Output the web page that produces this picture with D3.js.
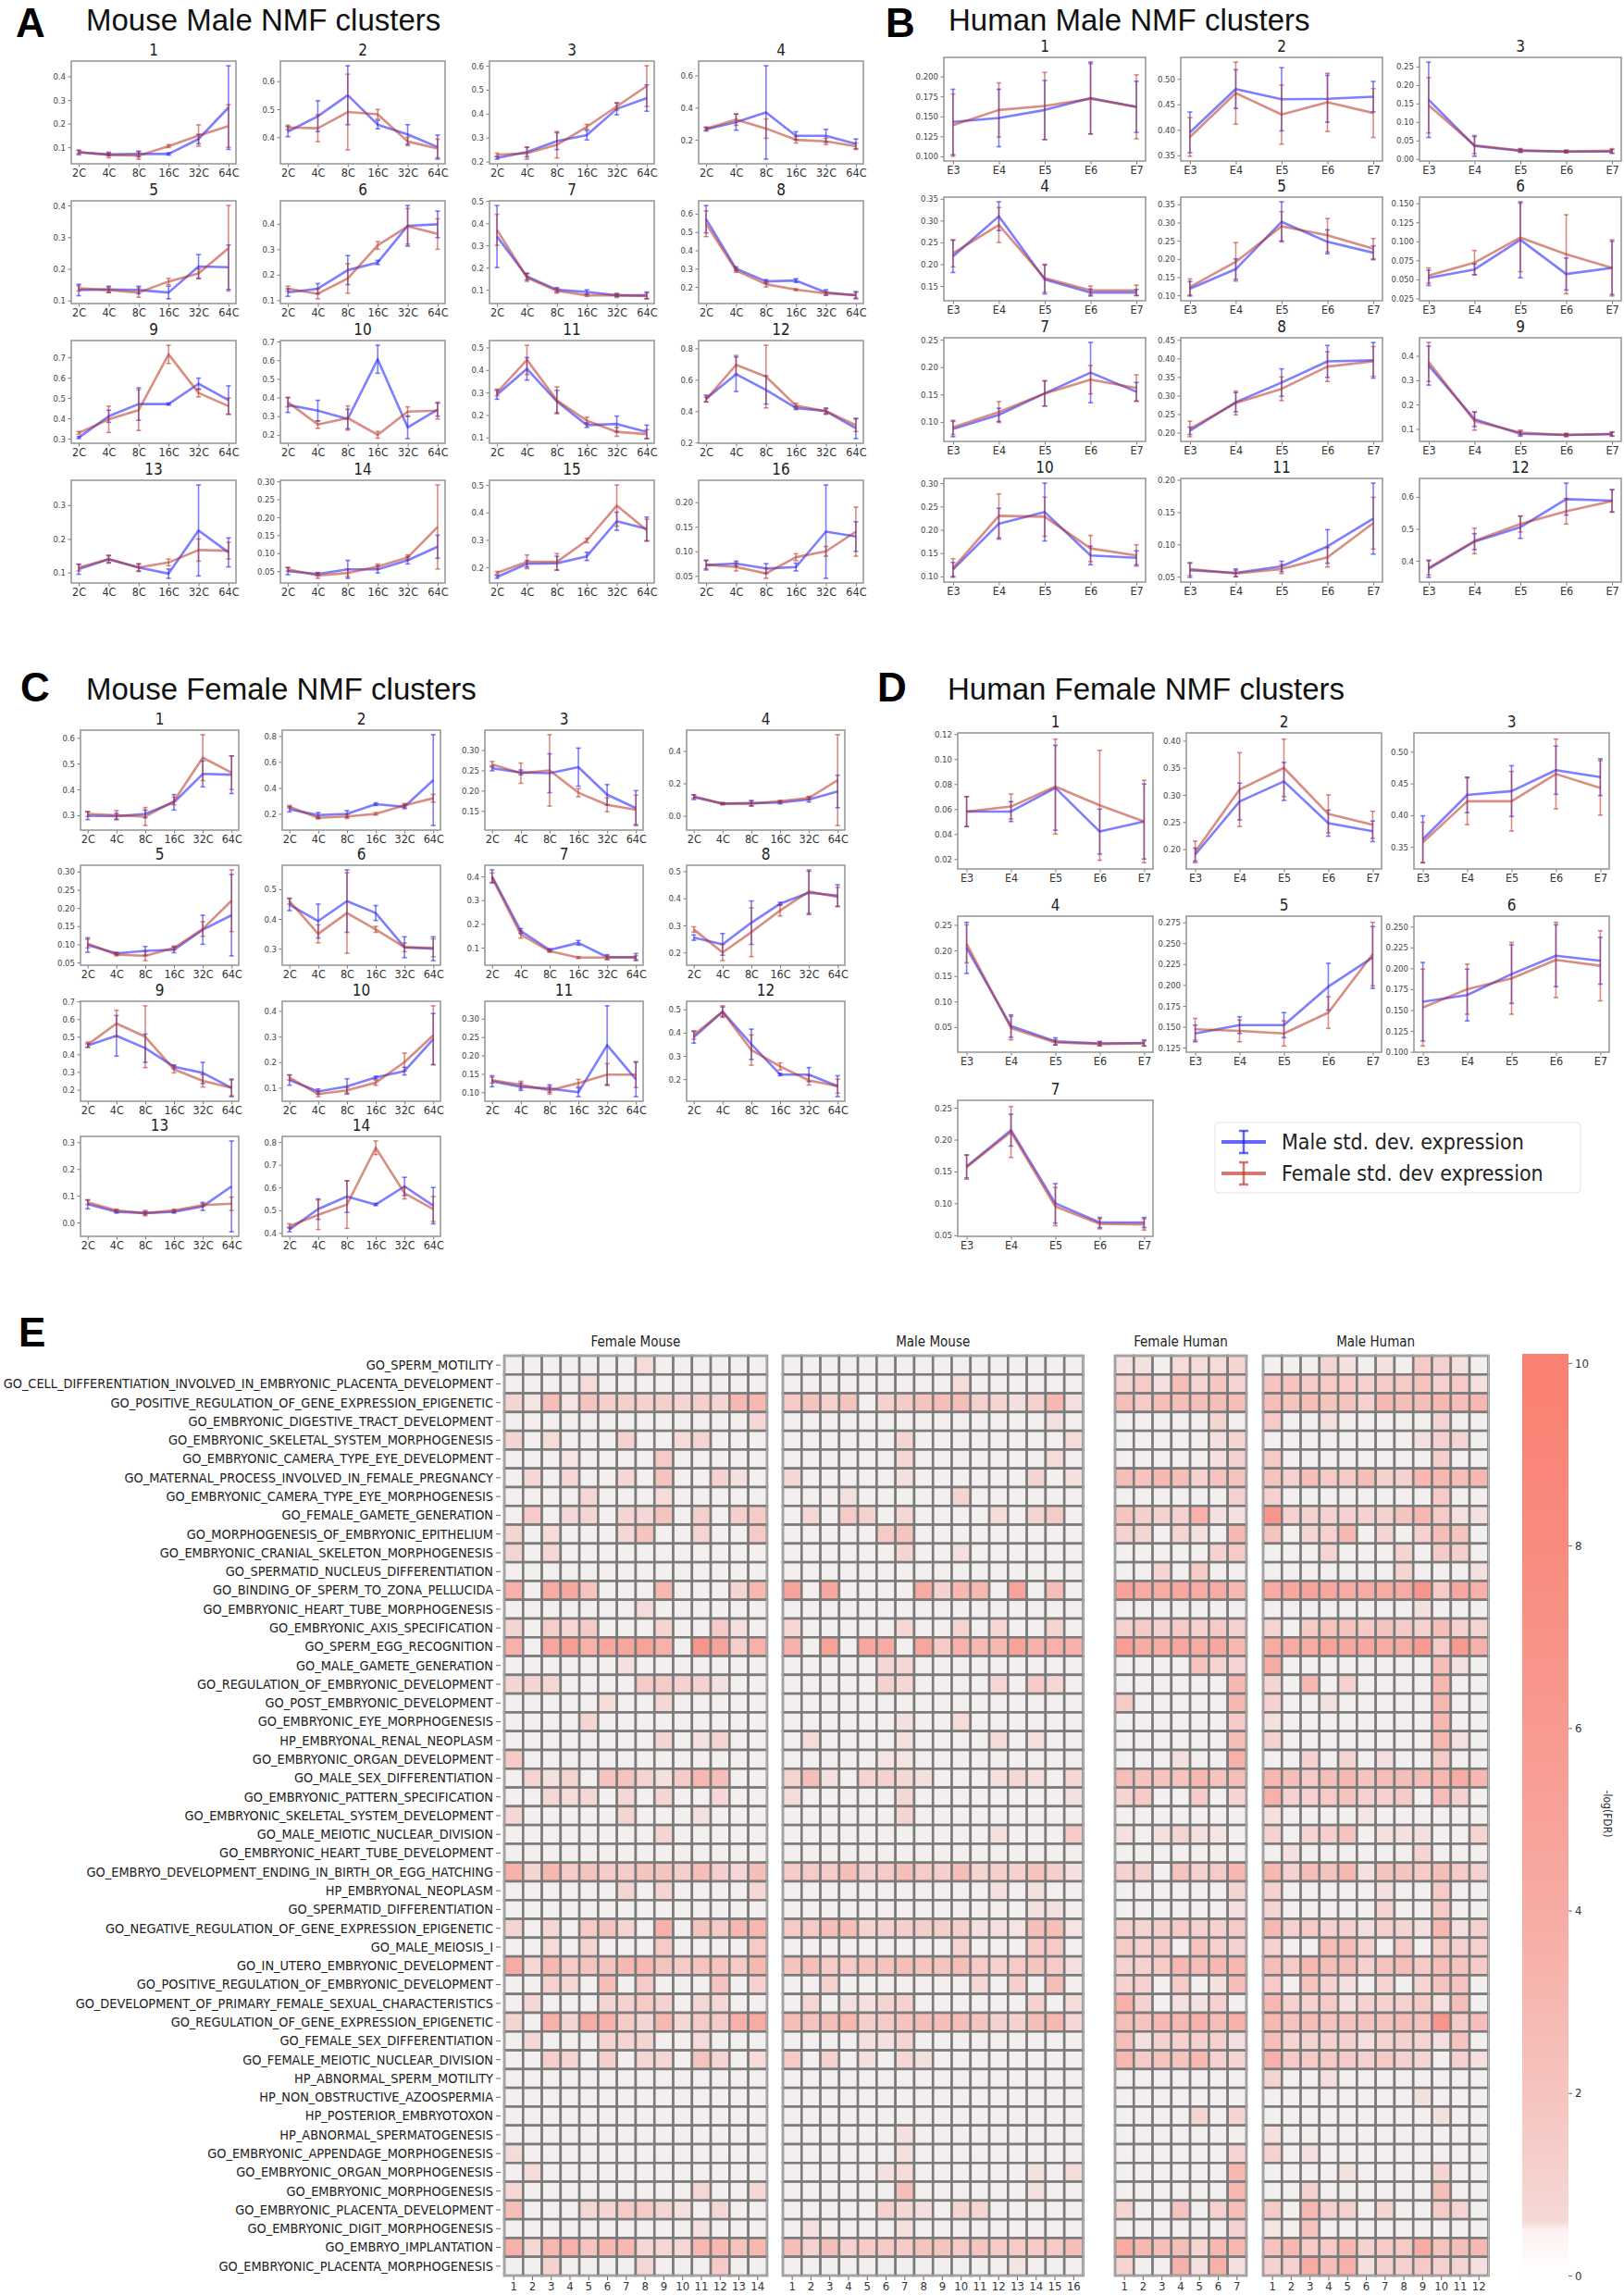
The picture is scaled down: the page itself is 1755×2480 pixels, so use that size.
<!DOCTYPE html>
<html><head><meta charset="utf-8">
<script src="https://cdn.jsdelivr.net/npm/d3@7"></script>
<style>body{margin:0;background:#fff;}svg{display:block;}</style>
</head><body>
<svg id="fig" width="1755" height="2480"></svg>
<script>
// ---------------- DATA ----------------
const mouseStages = ["2C","4C","8C","16C","32C","64C"];
const humanStages = ["E3","E4","E5","E6","E7"];

// Panel A: Mouse Male NMF clusters
const aMaleMean = [
 [0.078,0.07,0.072,0.072,0.135,0.268],[0.42,0.475,0.55,0.445,0.41,0.365],[0.215,0.24,0.285,0.31,0.42,0.465],[0.265,0.31,0.37,0.225,0.225,0.175],
 [0.133,0.135,0.133,0.125,0.207,0.205],[0.13,0.145,0.218,0.248,0.392,0.398],[0.34,0.16,0.1,0.09,0.075,0.075],[0.57,0.3,0.23,0.235,0.17,0.155],
 [0.305,0.41,0.47,0.47,0.57,0.49],[0.36,0.33,0.285,0.605,0.24,0.335],[0.29,0.405,0.26,0.155,0.16,0.125],[0.48,0.635,0.535,0.42,0.4,0.29],
 [0.11,0.14,0.115,0.097,0.225,0.16],[0.05,0.042,0.055,0.055,0.08,0.118],[0.165,0.213,0.215,0.24,0.368,0.34],[0.072,0.075,0.065,0.068,0.14,0.13]];
const aMaleSD = [
 [0.01,0.005,0.012,0.005,0.02,0.177],[0.018,0.055,0.105,0.015,0.035,0.043],[0.005,0.02,0.035,0.02,0.025,0.055],[0.01,0.05,0.29,0.025,0.04,0.03],
 [0.018,0.01,0.012,0.02,0.038,0.07],[0.015,0.02,0.057,0.008,0.08,0.052],[0.14,0.015,0.01,0.01,0.005,0.015],[0.075,0.01,0.01,0.01,0.015,0.02],
 [0.005,0.03,0.08,0.005,0.028,0.07],[0.04,0.055,0.052,0.075,0.06,0.035],[0.02,0.05,0.05,0.01,0.035,0.03],[0.022,0.11,0.09,0.01,0.02,0.065],
 [0.015,0.01,0.01,0.014,0.135,0.043],[0.01,0.004,0.025,0.01,0.01,0.032],[0.005,0.012,0.025,0.015,0.033,0.043],[0.01,0.005,0.01,0.008,0.095,0.03]];
const aFemaleMean = [
 [0.08,0.068,0.065,0.105,0.15,0.19],[0.435,0.432,0.49,0.482,0.385,0.36],[0.228,0.235,0.27,0.345,0.43,0.515],[0.27,0.325,0.27,0.2,0.19,0.16],
 [0.138,0.133,0.125,0.16,0.185,0.265],[0.145,0.125,0.185,0.315,0.39,0.36],[0.37,0.155,0.095,0.075,0.075,0.072],[0.545,0.29,0.215,0.185,0.165,0.155],
 [0.328,0.395,0.44,0.715,0.525,0.46],[0.375,0.255,0.29,0.2,0.325,0.33],[0.3,0.445,0.265,0.175,0.125,0.115],[0.475,0.695,0.62,0.435,0.4,0.31],
 [0.115,0.14,0.115,0.13,0.167,0.165],[0.055,0.038,0.045,0.063,0.088,0.173],[0.18,0.22,0.22,0.298,0.425,0.335],[0.073,0.068,0.055,0.088,0.1,0.14]];
const aFemaleSD = [
 [0.006,0.012,0.015,0.006,0.045,0.09],[0.008,0.048,0.135,0.017,0.015,0.033],[0.007,0.025,0.055,0.01,0.015,0.085],[0.01,0.035,0.06,0.02,0.02,0.02],
 [0.008,0.008,0.015,0.01,0.015,0.135],[0.01,0.02,0.058,0.015,0.07,0.06],[0.07,0.017,0.01,0.005,0.01,0.013],[0.07,0.01,0.015,0.005,0.01,0.015],
 [0.007,0.065,0.1,0.045,0.02,0.04],[0.025,0.02,0.065,0.018,0.025,0.045],[0.015,0.065,0.06,0.015,0.02,0.02],[0.015,0.06,0.2,0.015,0.015,0.04],
 [0.01,0.012,0.012,0.01,0.033,0.025],[0.005,0.008,0.01,0.007,0.007,0.117],[0.005,0.025,0.03,0.008,0.075,0.04],[0.008,0.008,0.01,0.007,0.01,0.05]];

// Panel B: Human Male NMF clusters
const bMaleMean = [
 [0.143,0.148,0.158,0.173,0.162],[0.395,0.48,0.46,0.461,0.465],[0.16,0.035,0.022,0.02,0.02],[0.218,0.31,0.165,0.135,0.135],
 [0.118,0.172,0.302,0.247,0.217],[0.052,0.063,0.102,0.057,0.065],[0.087,0.113,0.152,0.19,0.155],[0.205,0.282,0.335,0.392,0.395],
 [0.36,0.14,0.08,0.075,0.078],[0.115,0.213,0.238,0.145,0.14],[0.06,0.056,0.066,0.097,0.14],[0.375,0.46,0.505,0.593,0.588]];
const bMaleSD = [
 [0.041,0.036,0.037,0.045,0.032],[0.04,0.038,0.062,0.046,0.03],[0.102,0.028,0.004,0.003,0.005],[0.037,0.033,0.033,0.008,0.007],
 [0.02,0.028,0.055,0.033,0.019],[0.01,0.007,0.05,0.021,0.035],[0.014,0.012,0.023,0.055,0.017],[0.01,0.026,0.037,0.043,0.048],
 [0.08,0.03,0.01,0.005,0.008],[0.015,0.033,0.062,0.02,0.015],[0.011,0.006,0.008,0.026,0.055],[0.027,0.025,0.035,0.05,0.035]];
const bFemaleMean = [
 [0.139,0.158,0.163,0.172,0.162],[0.386,0.472,0.43,0.454,0.433],[0.145,0.037,0.023,0.02,0.022],[0.225,0.29,0.168,0.14,0.14],
 [0.123,0.192,0.29,0.265,0.228],[0.055,0.072,0.105,0.083,0.065],[0.09,0.118,0.152,0.177,0.162],[0.21,0.28,0.318,0.378,0.392],
 [0.375,0.132,0.085,0.075,0.08],[0.118,0.23,0.228,0.16,0.145],[0.062,0.055,0.062,0.08,0.133],[0.378,0.462,0.515,0.555,0.587]];
const bFemaleSD = [
 [0.039,0.034,0.042,0.044,0.04],[0.038,0.061,0.058,0.057,0.048],[0.075,0.023,0.005,0.004,0.006],[0.031,0.04,0.032,0.01,0.012],
 [0.022,0.053,0.04,0.046,0.028],[0.01,0.016,0.045,0.052,0.037],[0.013,0.019,0.023,0.026,0.024],[0.021,0.032,0.032,0.04,0.04],
 [0.08,0.037,0.01,0.007,0.008],[0.02,0.047,0.042,0.028,0.023],[0.01,0.005,0.007,0.015,0.04],[0.022,0.04,0.025,0.04,0.035]];

// Panel C: Mouse Female NMF clusters
const cMaleMean = [
 [0.298,0.296,0.305,0.35,0.46,0.457],[0.235,0.19,0.2,0.275,0.255,0.46],[0.255,0.245,0.243,0.258,0.19,0.157],[0.115,0.075,0.078,0.082,0.1,0.15],
 [0.098,0.075,0.082,0.085,0.14,0.18],[0.448,0.393,0.46,0.42,0.305,0.3],[0.4,0.17,0.09,0.12,0.06,0.06],[0.255,0.23,0.31,0.38,0.42,0.41],
 [0.45,0.505,0.435,0.33,0.295,0.21],[0.13,0.085,0.105,0.14,0.165,0.29],[0.13,0.115,0.11,0.1,0.228,0.135],[0.38,0.49,0.35,0.22,0.22,0.17],
 [0.068,0.04,0.035,0.04,0.06,0.135],[0.415,0.505,0.56,0.525,0.605,0.52]];
const cMaleSD = [
 [0.015,0.011,0.015,0.03,0.05,0.073],[0.02,0.02,0.025,0.01,0.015,0.35],[0.006,0.006,0.048,0.047,0.025,0.043],[0.015,0.006,0.017,0.008,0.015,0.1],
 [0.02,0.003,0.012,0.008,0.04,0.112],[0.02,0.057,0.105,0.025,0.035,0.04],[0.028,0.01,0.005,0.01,0.01,0.015],[0.01,0.04,0.08,0.005,0.08,0.04],
 [0.01,0.115,0.08,0.01,0.06,0.05],[0.02,0.01,0.03,0.005,0.015,0.1],[0.015,0.01,0.01,0.012,0.107,0.047],[0.025,0.02,0.065,0.005,0.03,0.045],
 [0.017,0.005,0.005,0.005,0.015,0.17],[0.01,0.045,0.07,0.005,0.04,0.08]];
const cFemaleMean = [
 [0.305,0.3,0.295,0.355,0.523,0.465],[0.255,0.17,0.18,0.2,0.265,0.32],[0.265,0.243,0.25,0.195,0.165,0.153],[0.12,0.075,0.075,0.09,0.11,0.22],
 [0.102,0.072,0.068,0.09,0.142,0.22],[0.46,0.35,0.42,0.365,0.305,0.303],[0.395,0.155,0.085,0.058,0.058,0.058],[0.285,0.2,0.275,0.355,0.425,0.405],
 [0.455,0.575,0.5,0.315,0.25,0.21],[0.14,0.075,0.09,0.12,0.2,0.305],[0.133,0.12,0.105,0.125,0.148,0.148],[0.39,0.49,0.325,0.255,0.195,0.17],
 [0.075,0.045,0.035,0.045,0.065,0.07],[0.43,0.48,0.525,0.775,0.575,0.505]];
const cFemaleSD = [
 [0.01,0.018,0.035,0.015,0.089,0.065],[0.01,0.01,0.015,0.01,0.015,0.03],[0.007,0.025,0.088,0.01,0.017,0.036],[0.01,0.006,0.015,0.006,0.01,0.28],
 [0.012,0.004,0.013,0.005,0.02,0.085],[0.01,0.03,0.135,0.01,0.015,0.03],[0.02,0.015,0.005,0.004,0.008,0.008],[0.01,0.03,0.09,0.02,0.08,0.035],
 [0.015,0.075,0.175,0.02,0.035,0.045],[0.01,0.01,0.01,0.01,0.035,0.115],[0.008,0.01,0.01,0.01,0.03,0.035],[0.018,0.025,0.065,0.015,0.02,0.03],
 [0.008,0.005,0.01,0.005,0.005,0.025],[0.01,0.065,0.105,0.03,0.025,0.055]];

// Panel D: Human Female NMF clusters
const dMaleMean = [
 [0.058,0.058,0.077,0.042,0.05],[0.19,0.288,0.325,0.248,0.233],[0.362,0.432,0.438,0.471,0.46],[0.205,0.052,0.022,0.018,0.019],
 [0.142,0.152,0.152,0.198,0.233],[0.16,0.168,0.193,0.215,0.209],[0.158,0.215,0.1,0.07,0.07]];
const dMaleSD = [
 [0.012,0.008,0.034,0.018,0.03],[0.012,0.034,0.035,0.024,0.019],[0.037,0.028,0.04,0.038,0.029],[0.05,0.022,0.007,0.004,0.006],
 [0.01,0.01,0.015,0.028,0.037],[0.047,0.031,0.035,0.037,0.028],[0.018,0.025,0.031,0.008,0.008]];
const dFemaleMean = [
 [0.058,0.062,0.078,0.063,0.05],[0.195,0.31,0.35,0.265,0.245],[0.357,0.422,0.422,0.465,0.443],[0.213,0.048,0.02,0.017,0.018],
 [0.147,0.145,0.142,0.167,0.237],[0.153,0.175,0.188,0.21,0.203],[0.157,0.212,0.095,0.068,0.067]];
const dFemaleSD = [
 [0.012,0.01,0.038,0.044,0.033],[0.02,0.068,0.053,0.035,0.025],[0.032,0.037,0.047,0.055,0.043],[0.037,0.023,0.005,0.004,0.005],
 [0.013,0.013,0.015,0.019,0.038],[0.046,0.03,0.043,0.045,0.042],[0.019,0.04,0.03,0.008,0.009]];

const legendLabels = ["Male std. dev. expression","Female std. dev expression"];

// Panel E: heatmap of -log(FDR)
const goTerms = ["GO_SPERM_MOTILITY","GO_CELL_DIFFERENTIATION_INVOLVED_IN_EMBRYONIC_PLACENTA_DEVELOPMENT","GO_POSITIVE_REGULATION_OF_GENE_EXPRESSION_EPIGENETIC",
 "GO_EMBRYONIC_DIGESTIVE_TRACT_DEVELOPMENT","GO_EMBRYONIC_SKELETAL_SYSTEM_MORPHOGENESIS","GO_EMBRYONIC_CAMERA_TYPE_EYE_DEVELOPMENT",
 "GO_MATERNAL_PROCESS_INVOLVED_IN_FEMALE_PREGNANCY","GO_EMBRYONIC_CAMERA_TYPE_EYE_MORPHOGENESIS","GO_FEMALE_GAMETE_GENERATION",
 "GO_MORPHOGENESIS_OF_EMBRYONIC_EPITHELIUM","GO_EMBRYONIC_CRANIAL_SKELETON_MORPHOGENESIS","GO_SPERMATID_NUCLEUS_DIFFERENTIATION",
 "GO_BINDING_OF_SPERM_TO_ZONA_PELLUCIDA","GO_EMBRYONIC_HEART_TUBE_MORPHOGENESIS","GO_EMBRYONIC_AXIS_SPECIFICATION","GO_SPERM_EGG_RECOGNITION",
 "GO_MALE_GAMETE_GENERATION","GO_REGULATION_OF_EMBRYONIC_DEVELOPMENT","GO_POST_EMBRYONIC_DEVELOPMENT","GO_EMBRYONIC_EYE_MORPHOGENESIS",
 "HP_EMBRYONAL_RENAL_NEOPLASM","GO_EMBRYONIC_ORGAN_DEVELOPMENT","GO_MALE_SEX_DIFFERENTIATION","GO_EMBRYONIC_PATTERN_SPECIFICATION",
 "GO_EMBRYONIC_SKELETAL_SYSTEM_DEVELOPMENT","GO_MALE_MEIOTIC_NUCLEAR_DIVISION","GO_EMBRYONIC_HEART_TUBE_DEVELOPMENT",
 "GO_EMBRYO_DEVELOPMENT_ENDING_IN_BIRTH_OR_EGG_HATCHING","HP_EMBRYONAL_NEOPLASM","GO_SPERMATID_DIFFERENTIATION",
 "GO_NEGATIVE_REGULATION_OF_GENE_EXPRESSION_EPIGENETIC","GO_MALE_MEIOSIS_I","GO_IN_UTERO_EMBRYONIC_DEVELOPMENT",
 "GO_POSITIVE_REGULATION_OF_EMBRYONIC_DEVELOPMENT","GO_DEVELOPMENT_OF_PRIMARY_FEMALE_SEXUAL_CHARACTERISTICS",
 "GO_REGULATION_OF_GENE_EXPRESSION_EPIGENETIC","GO_FEMALE_SEX_DIFFERENTIATION","GO_FEMALE_MEIOTIC_NUCLEAR_DIVISION",
 "HP_ABNORMAL_SPERM_MOTILITY","HP_NON_OBSTRUCTIVE_AZOOSPERMIA","HP_POSTERIOR_EMBRYOTOXON","HP_ABNORMAL_SPERMATOGENESIS",
 "GO_EMBRYONIC_APPENDAGE_MORPHOGENESIS","GO_EMBRYONIC_ORGAN_MORPHOGENESIS","GO_EMBRYONIC_MORPHOGENESIS",
 "GO_EMBRYONIC_PLACENTA_DEVELOPMENT","GO_EMBRYONIC_DIGIT_MORPHOGENESIS","GO_EMBRYO_IMPLANTATION","GO_EMBRYONIC_PLACENTA_MORPHOGENESIS"];
const heatGroups = ["Female Mouse","Male Mouse","Female Human","Male Human"];

const femaleMouseFDR = [
 [0,0,0,0,0,0,0,0.5,0,0,0,0,0,0],[0,0,0,0,0.5,0,0,0,0,0,0,0,0,0],[0.8,0.3,2.5,0.3,2,1.2,1.2,1,1.2,0.8,1.2,0.8,3,3],
 [0,0,0,0,0,0,0,0,0,0,0,0,0,0.6],[0.8,0,0.5,0,0,0,1,0,0,0.5,0.8,0,0,0],[0,0,0,0.3,0,0,0,0,1.5,0,0,0,0,0],
 [0,0.6,0,0.6,0,0,0.6,0,2,0,0,1,0.4,0],[0,0,0,0,0.6,0,0,0,0.5,0,0,0,0,0],[0,1.5,0,0.6,0.8,0,0.8,0.6,2,0,1.2,0,1.2,1.5],
 [0.8,0,0.5,0,0,0,0.6,2,0,0,0.8,0,0,1.5],[0.8,0,0.6,0,0,0,0,0,0,0,0,0,0,0],[0,0,0,0,0,0,0,0,0,0,0,0,0,0],
 [3.5,0,4,4.5,2,0,0,0,3,0,0,0,0.8,3],[0,0,0,0,0,0,0,0.5,0,0,0,0,0,0],[0.8,0,1.2,0.6,1.5,0,0,0,0.8,0,0,1.5,0.4,0],
 [3.5,0,4.5,5.5,3.5,4.5,4.5,5,3.5,0,6.5,5,1.2,3.5],[0,0,0,0,0,0,0.4,0,0,0,0,0,0,0],[0.8,0.8,0.6,0,0,0,0,1.5,1.5,1,1,0.4,0,0],
 [0,0,0,0,0,0.5,0,0,0.6,0,0,0,0,0],[0,0,0,0,0.8,0,0,0,0,0,0,0,0,0],[0,0,0,0,0,0,0,0,0.8,0,0.4,0.8,0,0],
 [1.5,0,0,0,0,0,0,0,0,0,0,0,0,0],[0,0.8,0.4,0.8,0,2,2,0.8,0.4,1.5,3,2.5,0,0],[0,0,0.6,0.5,0.6,0,0.6,0,0.8,0,0,0.6,0,0],
 [0.6,0,0,0,0,0,0.8,0,0,0,0.4,0,0,0],[0,0,0,0,0,0,0,0,0.8,0,0,0,0,0],[0,0,0,0,0,0,0,0,0,0,0,0,0,0],
 [3.5,0.8,3,1.5,2,1.5,1.5,2,2,1.2,2.5,1.2,0.6,2.5],[0,0,0,0,0,0,0.8,0,0.8,0,0,0,0,0.6],[0,0,0,0,0,0,0,0,0,0,0,0,0,0],
 [0.8,0,0.6,0,1.5,2,0.8,0,3.5,0,2,1.5,3,3],[0,0,0.5,0,0.8,0,0,0,1.5,0,0,0,0,1.5],[4,0.6,3,1.5,2,2,3,3,2,1.5,2,2,1.5,3],
 [0,0,1,0.6,0,2.5,0,1.5,0,0,0,2,0,1],[0,0.6,0,0,0,0.8,1,1.5,1,0,0.6,0.6,0,0],[0.8,0,3.5,0.8,4,3.5,1.5,0.8,3,0.6,1.5,1.5,3.5,4],
 [0,0.6,0,0,0,0.8,0.8,0.8,0,0,0.5,0,0,0],[0,0,1.2,0.8,0,1.2,0,0.6,0.6,0,2,0.8,0,0.5],[0,0,0,0,0,0,0,0,0,0,0,0,0,0],
 [0,0,0,0,0,0,0,0,0,0,0,0,0,0],[0,0,0,0,0,0,0,0,0,0,0,0,0,0],[0,0,0,0,0,0,0,0,0,0,0,0,0,0],
 [0.5,0,0,0,0,0,0,0,0,0,0,0,0,0],[0,0.5,0,0,0,0,0,0,0,0,0,0,0,0],[0.6,0,0,0,0,0,0,0,0,0,0.6,0,0,0.6],
 [2.5,0,0,0,0.6,0.8,1.5,1.5,0.8,0.4,0,0.6,0,0],[0,0,0,0,0,0,0,0,0,0,0.4,0,0,0],[3.5,0.6,3,3.5,2,3,3,0.6,0.6,0.6,3,3,2,3],
 [0,0,1,0,0,0,0,0.6,0,0,0,1.5,0,0]];
const maleMouseFDR = [
 [0,0,0,0,0,0,0,0,0,0,0,0,0,0,0,0],[0,0,0,0,0,0,0,0,0,0.5,0,0,0,0,0,0],[1.5,2,1,2,0,1,1.5,2,2.5,2.5,1,0.8,0.4,1,3,0.4],
 [0,0,0,0,0,0,0,0,0,0,0,0,0,0,0.4,0],[0,0,0,0,0,0,0.8,0,0,0,0,0,0,0,0,0.5],[0,0,0,0,0,0,0.6,0,0,0,0,0,0,0,0.5,0],
 [0.6,0,0,0,0,0,0.4,0,0,0,0,0,0,0.8,0,0.4],[0,0,0,0.4,0,0,0,0,0,0.8,0,0,0,0,0,0],[0,0.6,0,1.5,1,0,0.6,0,0,0,0,0.5,0,0.8,1.5,0],
 [0,0,0,0,0,1.5,2,0,0,0,0,0,0,0,0,0],[0,0,0,0,0,0,0.8,0,0,0.4,0,0,0,0,0,0],[0,0,0,0,0,0,0,0,0,0,0,0,0,0,0,0],
 [5,0,4.5,0,0,0,0,4,1,3,3,0,5,0,2.5,0],[0,0,0,0,0,0,0,0,0,0,0,0,0,0,0,0],[0.6,0,0,0,0,0,0.6,0,0,0.8,0,0.6,0,0,0.8,0],
 [3.5,0,5,0,4.5,4,0,4.5,1.5,3.5,3,3,5,3.5,3.5,3.5],[0,0,0,0,0,0.6,0.6,0,0,0,0,0,0,0,0,0],[0,0,0,0,0,1,0.6,0,0,0,0,0.6,0,1.5,0.6,0],
 [0,0,0,0,0,0,0,0,0,0,0,0,0,0,0,0],[0,0,0,0,0,0,0.4,0,0,0.5,0,0,0,0,0,0],[0,0.5,0,0,0,0,0.4,0,0,0,0,0.5,0,0.4,0,0],
 [0,0,0,0,0,0.3,0.3,0,0,0,0,0,0,0,0,0],[0.8,2.5,0.4,0,0.8,1,0.6,0.4,0,0,0,0.4,0.6,0.4,0,0.6],[0.5,0,0,0,0,0,0.6,0,0,0,0,0,0,0,0,0.4],
 [0,0,0,0,0,0,0.8,0,0,0,0,0,0,0,0,0],[0,0,0,0,0,0,0,0,0,0,0,0.4,0,0,0,1.5],[0,0,0,0,0,0,0,0,0,0,0,0,0,0,0,0],
 [1.5,1.5,1.5,2.5,1,1.5,2.5,1.5,1.2,2.5,0.8,1.2,1,2,1.2,0.4],[0,0,0,0,0,0,0,0,0,0,0,0.4,0,0.4,0,0],[0,0,0,0,0,0,0,0,0,0,0,0,0,0.4,0.4,0],
 [1.5,1.5,2.5,2.5,0.8,1,1.2,1.2,1.2,1.2,0.4,0.4,0.3,2.5,2.5,0.3],[0,0,0,0,0,0,0,0,0,0.8,0,0,0,1.5,1.5,0],[2,2.5,1.5,1.5,2,2,2.5,2,2,2.5,1.5,1,1.5,2,1.5,0.4],
 [0,0,1,0,0,0,0,0,0,0,0.6,0,1.2,0,2.5,0],[0,0.6,0,0.4,0.4,0.8,1,0,0,0,0,0,0,1,0,0.5],[2.5,2,2.5,3,1.2,1.5,2,2.5,2.5,2.5,2,1,1,2.5,3,0.6],
 [0,0,0,0,0.4,0.4,0.8,0,0,0,0,0,0,0,0,0],[1.5,0,1,0,0.4,0,0.6,0.4,0,0,0,0,0,0,0,0],[0,0,0,0,0,0,0,0,0,0,0,0,0,0,0,0],
 [0,0,0,0,0,0,0,0,0,0,0,0,0,0,0,0],[0,0,0,0,0,0,0,0,0,0,0,0,0,0,0,0],[0,0,0,0,0,0,0.4,0,0,0,0,0,0,0,0,0],
 [0,0,0,0,0,0,0.4,0,0,0,0,0,0,0,0,0],[0,0,0,0,0,0.4,0.5,0,0,0,0,0,0,0.4,0,0.5],[0,0,0,0,0,0,2.5,0,0,0,0,0,0,0.4,0,0],
 [0,0,0,0,0,1,0.6,0.4,0,0.8,0.8,0,0,0,0,0],[0,0.4,0,0,0,0,0.4,0,0,0,0,0,0,0,0,0],[2.5,1,2.5,1,1.5,1.5,1.5,2,2,1.5,2,1.5,1.5,1.5,1.5,2.5],
 [0,0,0,0,0,0,0,0,0,0,0,0,0.3,0,0,0]];
const femaleHumanFDR = [
 [0.4,0.4,0,0.5,0.5,0.5,0.8],[0.8,1.5,0.4,2.5,0.8,1.8,0.8],[2.5,1.5,2.5,2.5,2.5,2.5,2.5],[0,0,0,0,0,0.8,0],
 [0,0,0,0,0,0.4,0.8],[0,0,0,0,0,0.4,1],[2.5,2,3,2.5,1,2,2],[0,0,0,0,0,0,1],[2,1.2,1,1,3.5,0.4,0.4],
 [1,0.8,0,0.8,0.4,0,3],[0,0,0,0,0,1,1.5],[0,0,0.8,0,1.5,0,0],[5,4,4,4.5,4,4,3],[0,0,0,0,0,0,0],
 [1,1.5,1,1.5,1,1.5,1],[5.5,4,4,4.5,4,4.5,3],[0,0,0,0,2,0.8,0.8],[0,0,0,0,0,0,3],[1.5,0,0,0,0,0,3],
 [0,0,0,0,0,0,1.5],[0,0,0,0,0,0,2.5],[0,0,0,0.4,0,0,3.5],[2.5,2,2,2,3,2,2.5],[0.8,1.5,0,0,1.5,0,0.8],
 [0,0,0,0,0,0,0],[0.4,0,0.4,0.8,0.4,0.3,0],[0,0,0,0,0,0,0],[1,1,0,2,1,1.5,3],[0,0,0,0,0,0,0.8],
 [0,0,0,0,0,0,0.4],[1,0.8,1.2,1.5,1,1,1.5],[1.5,1,1.5,0,2,1,1],[1,1,1.5,3,2.5,3,3],[1,1,0,1.5,0,0.4,2.5],
 [3.5,1,0,0.4,0.4,1,0],[2.5,2,3,3,3.5,2.5,3.5],[2.5,0.4,1,1,1,1,0.4],[3,1.5,2,2,3,1,0.8],[0,0,0,0,0,0,0],
 [0,0,0,0,0,0,0],[0,0,0,0,0.8,0,0.8],[0,0,0,0,0,0,0],[0,0,0,0,0,0,0.8],[0,0,0,0,0,0,3],[0,0,0,0,0,0,3],
 [0.8,0,0,2,0,1,2.5],[0,0,0,0,0,0,1],[4,3,2.5,2.5,0.8,3,3],[0.8,0,0,3.5,0.4,3.5,0.4]];
const maleHumanFDR = [
 [0,0,0,0.8,0.4,0,0.4,0,1.5,1,0.4,0],[2,2,1.5,1.5,1.5,1,1.5,1.5,2,1,1.5,0.4],[2.5,2,2.5,2,2,1,3,2.5,2.5,3,2.5,3],
 [1.5,0,0,0.4,0,0,0,0,0,0.8,0,0],[0,0,0,0,0,0,0,0,0.4,1,0.8,0],[1.5,0,0,0,0,0,0,0,0,1.2,0,0],
 [2,1,2.5,1.5,1.5,2.5,1,1,3,3,2.5,3],[1,0,0,0,0,0,0,0,0,1.5,0,0],[6.5,1,1,1,1,1,1,2,3,1.5,0.4,0.4],
 [2,0,0.8,1,3,0,0.8,0,1,2.5,2,0],[0,0,0,0.8,0,0,0,0.8,0,1.5,1.2,0],[0,0,0,0,0,0,0,0.8,0,0,0,0.4],
 [4,4.5,5,4.5,4,4,4,4,6.5,1.5,4.5,3.5],[0,0,0,0,0,0,0,0,0.4,0,0,0],[0.8,0,1.5,2,2,1.5,2,1.5,1,2.5,1,0.8],
 [4,4,4,5,4.5,4.5,4,4,6,1.5,6,3.5],[4,0,0,0,0,0,0,0,0,2.5,0.4,0],[0.8,0,3,0,1,0,0,0,0,3,0,0],
 [1,0,0,0.4,0,0,0,0,0,3,0,0],[0.4,0,0,0,0,0,0,0,0,3,0,0],[1,0,0,0,0,0,0,0,0,3,0.4,0],
 [0,0,1,0,0.8,0,0.4,0,0,1.5,0,0],[3,2.5,1.5,2.5,3,2,2.5,2.5,2.5,3,4,3],[3.5,1,1,1.5,2,1,1,1.5,0,2.5,1,0],
 [0.4,0,0,0,0,0.3,0,0,0,0,0,0],[1,0,0.8,1.2,2,0,0.4,0.4,0.4,0,0,0.8],[0,0.4,0,0,0,0,0,0,0.8,0,0,0],
 [3,1,2.5,2,3,0.4,2,2,1.5,2.5,1.5,1],[1,0,0,0,0,0,0.4,0,0,1.5,0,0],[0.8,0,0,0,0,0,0.8,0,0,1.5,0,0],
 [3,1,1.5,1,1,0.4,1,0.8,0.4,3,0.4,1],[1,0,0,2.5,2.5,1,0,1.5,0,1.5,1,1],[2.5,1.5,3,2.5,2.5,1,2,2.5,1.5,2.5,2,1.5],
 [1.5,0,2,1,0.4,0,0.8,0,0.8,2,2,0],[3,1,1,1.5,0.4,1,1,1,1.5,0.4,2.5,0],[3,2,2.5,2,2,2,2,2.5,2,6.5,1.5,2.5],
 [2.5,0.8,0.8,1,1,0.4,0.8,1,0.8,0.4,2,0],[3.5,1.5,1.5,1.5,1.5,1,1.5,1,0.8,0,1,0.4],[0.8,0,0,0.4,0,0,0,0,0,0,0,0],
 [0,0,0,0,0,0,0,0,0.4,0,0,0],[0,0,0,0,0,0,0,0,0,0.4,0,0],[0.4,0,0,0,0,0,0,0,0,0,0,0],
 [1,0,0.4,0,0,0,0,0,0,0,0,0],[0,0,0,0,0.4,0,0,0,0,0.8,0,0],[0,0,1,0,0,0,0,0,0,2.5,0,0],
 [1.5,0,3,1,1,0,0.8,0,0,1.5,0.8,0],[0.3,0,2,0,0,0,0,0,0,0,0,0],[2,3,1.5,1.5,3,1,1.5,1.5,4,2,2.5,3],
 [1,1,4,2.5,3.5,0.4,1,1,1.5,1,0.8,0.4]];
const colorbarTicks = [0,2,4,6,8,10];
const colorbarMax = 10.1;
// colormap stops (value -> colour)
const cmapValues = [0.6,2,4,6,8,10.1];
const cmapColors = ["#f5d8d5","#f6c4bf","#f7aba3","#f89a90","#f98b7e","#fa8072"];

// ---------------- DRAWING ----------------
const svg = d3.select("#fig");
svg.append("rect").attr("width",1755).attr("height",2480).attr("fill","#fff");
const COND = "'DejaVu Sans Condensed','DejaVu Sans',sans-serif";
const ARIAL = "'Liberation Sans',Arial,sans-serif";
const BLUE = "#1414ff", RED = "#b8321e";

function decimalsFor(step){ let k=0; while(k<6 && Math.abs(Math.round(step*Math.pow(10,k)) - step*Math.pow(10,k))>1e-6) k++; return k; }
function mplTicks(lo, hi, nbins){
  const raw=(hi-lo)/nbins;
  const mag=Math.pow(10,Math.floor(Math.log10(raw)));
  let step=10*mag;
  for(const s of [1,2,2.5,5,10]){ if(s*mag>=raw*(1-1e-9)){step=s*mag;break;} }
  const t=[];
  for(let k=Math.ceil(lo/step-1e-9); k*step<=hi+1e-9; k++) t.push(+(k*step).toFixed(10));
  return {ticks:t, step};
}

function drawPanel(p){
  p.maleMean.forEach((mMean,i)=>{
    const c=i%p.x0.length, r=Math.floor(i/p.x0.length);
    const g=svg.append("g").attr("transform",`translate(${p.x0[c]},${p.y0[r]})`);
    const mSD=p.maleSD[i], fMean=p.femaleMean[i], fSD=p.femaleSD[i];
    const all=[];
    mMean.forEach((v,j)=>{all.push(v-mSD[j],v+mSD[j]);});
    fMean.forEach((v,j)=>{all.push(v-fSD[j],v+fSD[j]);});
    const lo=d3.min(all), hi=d3.max(all), pad=(hi-lo)*0.05;
    const n=p.stages.length;
    const x=d3.scaleLinear().domain([-0.05*(n-1),1.05*(n-1)]).range([0,p.w]);
    const y=d3.scaleLinear().domain([lo-pad,hi+pad]).range([p.h,0]);
    const tk=mplTicks(lo-pad,hi+pad,p.nbins);
    const fmt=d3.format(`.${decimalsFor(tk.step)}f`);
    const ya=g.append("g").call(d3.axisLeft(y).tickValues(tk.ticks).tickFormat(fmt).tickSize(3.5).tickPadding(2.5));
    ya.select(".domain").remove();
    ya.selectAll("line").attr("stroke","#777");
    ya.selectAll("text").attr("font-family",COND).attr("font-stretch","condensed").attr("font-size",p.yfs).attr("fill","#444");
    const xa=g.append("g").attr("transform",`translate(0,${p.h})`)
      .call(d3.axisBottom(x).tickValues(d3.range(n)).tickFormat(j=>p.stages[j]).tickSize(3.5).tickPadding(2));
    xa.select(".domain").remove();
    xa.selectAll("line").attr("stroke","#777");
    xa.selectAll("text").attr("font-family",COND).attr("font-stretch","condensed").attr("font-size",p.xfs).attr("fill","#333");
    g.append("rect").attr("width",p.w).attr("height",p.h).attr("fill","none").attr("stroke","#9a9a9a").attr("stroke-width",1.6);
    [[mMean,mSD,BLUE],[fMean,fSD,RED]].forEach(([mean,sd,col])=>{
      const sg=g.append("g").attr("stroke",col).attr("stroke-opacity",0.55).attr("fill","none");
      sg.append("path").attr("d",d3.line().x((d,j)=>x(j)).y(d=>y(d))(mean)).attr("stroke-width",2.6).attr("stroke-linejoin","round");
      mean.forEach((v,j)=>{
        const xx=x(j), y1=y(v-sd[j]), y2=y(v+sd[j]);
        sg.append("line").attr("x1",xx).attr("x2",xx).attr("y1",y1).attr("y2",y2).attr("stroke-width",1.6);
        [y1,y2].forEach(yy=>sg.append("line").attr("x1",xx-2.6).attr("x2",xx+2.6).attr("y1",yy).attr("y2",yy).attr("stroke-width",1.6));
      });
    });
    g.append("text").attr("x",p.w/2).attr("y",-6).attr("text-anchor","middle").attr("font-family",COND)
      .attr("font-size",p.tfs).attr("fill","#222").text(i+1);
  });
}

drawPanel({maleMean:aMaleMean,maleSD:aMaleSD,femaleMean:aFemaleMean,femaleSD:aFemaleSD,stages:mouseStages,
  x0:[77,303,529,755],y0:[66,217,368,519],w:178,h:111,nbins:6,yfs:9.5,xfs:12.5,tfs:17});
drawPanel({maleMean:bMaleMean,maleSD:bMaleSD,femaleMean:bFemaleMean,femaleSD:bFemaleSD,stages:humanStages,
  x0:[1020,1276,1534],y0:[62,213,365,517],w:218,h:112,nbins:6,yfs:9.5,xfs:12.5,tfs:17});
drawPanel({maleMean:cMaleMean,maleSD:cMaleSD,femaleMean:cFemaleMean,femaleSD:cFemaleSD,stages:mouseStages,
  x0:[87,305,524,742],y0:[789,935,1082,1228],w:171,h:108,nbins:6,yfs:9.5,xfs:12.5,tfs:17});
drawPanel({maleMean:dMaleMean,maleSD:dMaleSD,femaleMean:dFemaleMean,femaleSD:dFemaleSD,stages:humanStages,
  x0:[1035,1282,1528],y0:[792,990,1189],w:211,h:147,nbins:8,yfs:9.5,xfs:12.5,tfs:17});

// panel letters and titles
[["A",17,40],["B",957,40],["C",22,758],["D",948,758],["E",20,1455]].forEach(([t,x,y])=>
  svg.append("text").attr("x",x).attr("y",y).attr("font-family",ARIAL).attr("font-weight","bold").attr("font-size",44).text(t));
[["Mouse Male NMF clusters",93,33],["Human Male NMF clusters",1025,33],["Mouse Female NMF clusters",93,756],["Human Female NMF clusters",1024,756]]
  .forEach(([t,x,y])=>svg.append("text").attr("x",x).attr("y",y).attr("font-family",ARIAL).attr("font-size",33).attr("fill","#111").text(t));

// legend
const lg=svg.append("g");
lg.append("rect").attr("x",1313).attr("y",1213).attr("width",395).attr("height",76).attr("rx",4).attr("fill","#fff").attr("stroke","#e2e2e2");
[[BLUE,1234],[RED,1268]].forEach(([col,yy],k)=>{
  const h=lg.append("g").attr("stroke",col).attr("stroke-opacity",0.65);
  h.append("line").attr("x1",1320).attr("x2",1368).attr("y1",yy).attr("y2",yy).attr("stroke-width",4);
  h.append("line").attr("x1",1344).attr("x2",1344).attr("y1",yy-12).attr("y2",yy+12).attr("stroke-width",2.5);
  [yy-12,yy+12].forEach(v=>h.append("line").attr("x1",1339).attr("x2",1349).attr("y1",v).attr("y2",v).attr("stroke-width",2.5));
  lg.append("text").attr("x",1385).attr("y",yy+8).attr("font-family",COND).attr("font-stretch","condensed").attr("font-size",23)
    .attr("fill","#222").text(legendLabels[k]);
});

// ---------------- HEATMAP ----------------
const heatColor=d3.scaleLinear().domain([0].concat(cmapValues)).range(["#f3efef"].concat(cmapColors)).clamp(true);
const yHeat=d3.scaleBand().domain(goTerms).range([1465,2459]);
const cellW=20.28;
const blocks=[{data:femaleMouseFDR,x0:545},{data:maleMouseFDR,x0:846},{data:femaleHumanFDR,x0:1205},{data:maleHumanFDR,x0:1365}];
blocks.forEach((b,bi)=>{
  const nc=b.data[0].length;
  const xb=d3.scaleBand().domain(d3.range(1,nc+1)).range([b.x0,b.x0+nc*cellW]);
  const hg=svg.append("g");
  goTerms.forEach((term,ri)=>{
    b.data[ri].forEach((v,ci)=>{
      hg.append("rect").attr("x",xb(ci+1)).attr("y",yHeat(term)).attr("width",xb.bandwidth()).attr("height",yHeat.bandwidth())
        .attr("fill",heatColor(v)).attr("stroke","#7b7b7b").attr("stroke-width",2.6);
    });
  });
  hg.append("rect").attr("x",b.x0).attr("y",1465).attr("width",nc*cellW).attr("height",994).attr("fill","none").attr("stroke","#bdbdbd").attr("stroke-width",1.2);
  const ax=svg.append("g").attr("transform","translate(0,2460)").call(d3.axisBottom(xb).tickSize(4).tickPadding(2));
  ax.select(".domain").remove();
  ax.selectAll("line").attr("stroke","#666");
  ax.selectAll("text").attr("font-family",COND).attr("font-stretch","condensed").attr("font-size",13).attr("fill","#333");
  svg.append("text").attr("x",b.x0+nc*cellW/2).attr("y",1455).attr("text-anchor","middle").attr("font-family",COND)
    .attr("font-size",15).attr("fill","#222").text(heatGroups[bi]);
});
// row labels
const labG=svg.append("g");
const labs=labG.selectAll("text").data(goTerms).join("text").attr("text-anchor","end").attr("font-family",COND)
  .attr("font-stretch","condensed").attr("font-size",13.5).attr("fill","#222").attr("dominant-baseline","central").text(d=>d);
let maxW=0; labs.each(function(){maxW=Math.max(maxW,this.getComputedTextLength());});
const kx=530/maxW;
labs.attr("transform",d=>`translate(533,${yHeat(d)+yHeat.bandwidth()/2}) scale(${kx},1)`);
goTerms.forEach(t=>svg.append("line").attr("x1",536).attr("x2",541).attr("y1",yHeat(t)+yHeat.bandwidth()/2).attr("y2",yHeat(t)+yHeat.bandwidth()/2).attr("stroke","#666"));

// colorbar
const defs=svg.append("defs");
const grad=defs.append("linearGradient").attr("id","cb").attr("x1",0).attr("y1",1).attr("x2",0).attr("y2",0);
[[0,"#ffffff"],[0.5,"#fbf1f0"]].concat(cmapValues.map((v,k)=>[v,cmapColors[k]])).forEach(([v,c])=>
  grad.append("stop").attr("offset",v/colorbarMax).attr("stop-color",c));
const cbScale=d3.scaleLinear().domain([0,colorbarMax]).range([2459,1463]);
svg.append("rect").attr("x",1645).attr("y",1463).attr("width",50).attr("height",996).attr("fill","url(#cb)");
const cba=svg.append("g").attr("transform","translate(1695,0)").call(d3.axisRight(cbScale).tickValues(colorbarTicks).tickSize(4).tickPadding(3));
cba.select(".domain").remove();
cba.selectAll("line").attr("stroke","#666");
cba.selectAll("text").attr("font-family",COND).attr("font-stretch","condensed").attr("font-size",13).attr("fill","#333");
svg.append("text").attr("transform","translate(1733,1960) rotate(90)").attr("text-anchor","middle").attr("font-family",COND)
  .attr("font-stretch","condensed").attr("font-size",12).attr("fill","#333").text("-log(FDR)");
</script></body></html>
